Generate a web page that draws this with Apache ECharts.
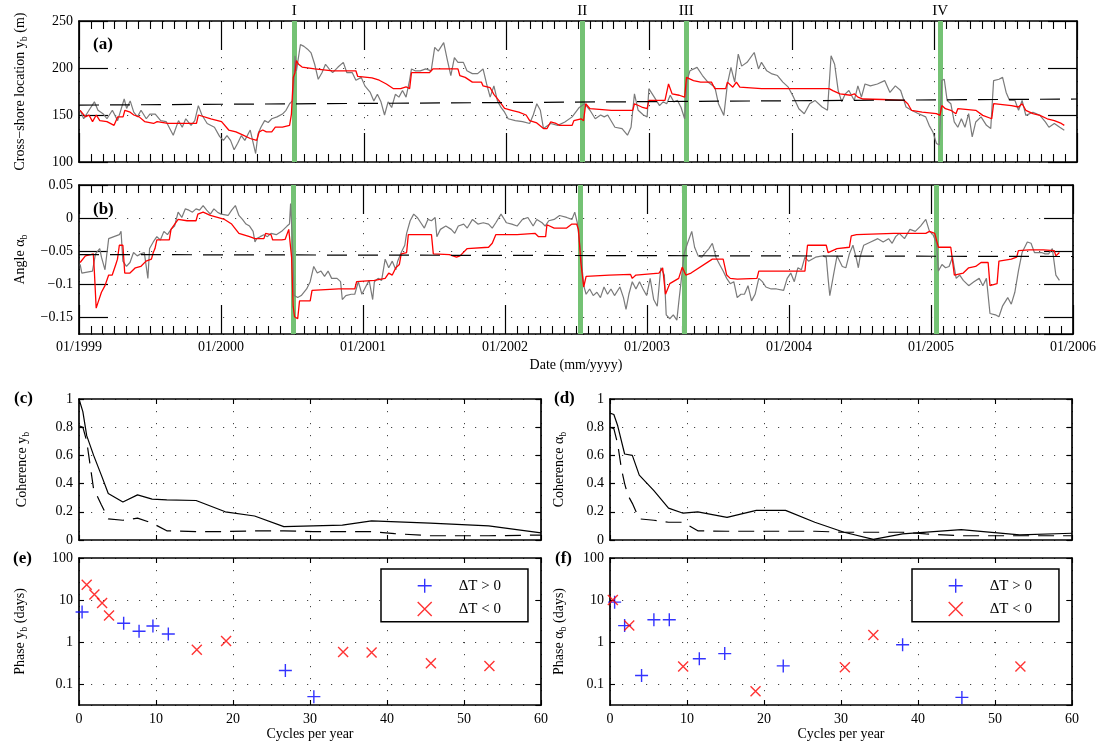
<!DOCTYPE html>
<html><head><meta charset="utf-8">
<script src="https://cdn.jsdelivr.net/npm/echarts@6/dist/echarts.min.js"></script>
<style>html,body{margin:0;padding:0;background:#fff}#c{width:1099px;height:742px}</style>
</head><body><div id="c"></div>
<script>
// ---------- DATA ----------
const eventDates = [2000.505, 2002.525, 2003.257, 2005.039];
const eventLabels = ['I', 'II', 'III', 'IV'];
const yearTickLabels = ['01/1999','01/2000','01/2001','01/2002','01/2003','01/2004','01/2005','01/2006'];

const aGray = [[1999.008,155],[1999.033,146],[1999.070,155],[1999.108,164],[1999.133,155],[1999.171,151],[1999.196,146],[1999.234,155],[1999.271,144],[1999.317,167],[1999.334,157],[1999.359,165],[1999.384,153],[1999.410,148],[1999.435,155],[1999.472,146],[1999.497,151],[1999.535,151],[1999.573,144],[1999.611,143],[1999.661,128.5],[1999.698,144],[1999.724,137],[1999.749,146],[1999.786,139],[1999.812,144],[1999.837,160],[1999.862,150],[1999.899,141],[1999.950,137],[1999.987,127],[2000.013,123],[2000.038,128],[2000.063,123],[2000.088,113],[2000.113,120],[2000.138,128],[2000.163,123],[2000.201,134],[2000.239,109],[2000.256,130],[2000.276,137],[2000.302,144],[2000.327,142],[2000.352,146],[2000.389,148],[2000.427,151],[2000.452,155],[2000.477,162],[2000.497,165],[2000.508,187],[2000.515,213],[2000.525,197],[2000.553,225],[2000.578,223],[2000.603,220],[2000.628,216],[2000.653,204],[2000.678,188],[2000.704,195],[2000.729,204],[2000.754,199],[2000.779,195],[2000.817,201],[2000.854,206],[2000.879,195],[2000.917,195],[2000.942,187],[2000.980,190],[2001.005,181],[2001.043,174],[2001.068,165],[2001.093,172],[2001.118,164],[2001.143,150],[2001.168,164],[2001.193,158],[2001.219,172],[2001.244,169],[2001.269,176],[2001.294,169],[2001.319,187],[2001.332,199],[2001.357,197],[2001.394,197],[2001.432,199],[2001.470,197],[2001.495,222],[2001.520,218],[2001.558,227],[2001.583,209],[2001.608,192],[2001.633,211],[2001.658,206],[2001.696,206],[2001.721,197],[2001.759,194],[2001.796,194],[2001.834,199],[2001.859,183],[2001.884,169],[2001.910,181],[2001.935,165],[2001.960,158],[2001.985,153],[2002.010,146],[2002.060,144],[2002.111,143],[2002.161,141],[2002.186,150],[2002.211,162],[2002.236,155],[2002.258,135.6],[2002.308,141],[2002.358,139],[2002.408,142.6],[2002.459,148],[2002.509,158],[2002.546,162],[2002.584,155],[2002.621,146],[2002.659,150],[2002.684,148],[2002.708,150],[2002.759,137],[2002.809,135.6],[2002.847,128.5],[2002.872,137],[2002.896,172.5],[2002.922,155],[2002.959,150],[2002.985,148],[2002.997,178],[2003.035,169],[2003.072,160],[2003.097,164],[2003.122,162],[2003.147,171],[2003.172,164],[2003.198,165.5],[2003.223,158],[2003.248,146],[2003.265,186.6],[2003.285,197],[2003.335,200.7],[2003.373,192],[2003.411,185],[2003.460,179.6],[2003.485,162],[2003.523,149.6],[2003.548,183],[2003.573,200.7],[2003.599,185],[2003.624,214.8],[2003.648,202],[2003.686,206],[2003.736,216.5],[2003.766,199],[2003.787,206],[2003.824,197],[2003.861,193.7],[2003.899,192],[2003.937,185],[2003.975,179.6],[2004.012,169],[2004.049,156.7],[2004.087,151.4],[2004.125,162],[2004.162,165.5],[2004.212,158.5],[2004.250,155],[2004.275,213],[2004.300,204],[2004.325,176],[2004.350,164],[2004.375,172.5],[2004.400,176],[2004.438,165.5],[2004.463,181],[2004.488,169],[2004.513,183],[2004.551,181],[2004.600,183],[2004.651,186.6],[2004.688,174],[2004.726,181],[2004.763,176],[2004.801,158.5],[2004.839,155],[2004.889,151.4],[2004.939,148],[2004.963,139],[2004.989,132],[2005.014,119.7],[2005.034,118],[2005.052,186.6],[2005.069,188],[2005.089,165.5],[2005.115,162],[2005.139,142.6],[2005.164,137],[2005.189,146],[2005.214,137],[2005.240,151.4],[2005.265,126.8],[2005.290,142.6],[2005.327,148],[2005.365,139],[2005.395,135.6],[2005.415,186.6],[2005.453,188],[2005.478,190],[2005.503,174],[2005.527,165.5],[2005.565,165.5],[2005.590,155],[2005.615,165.5],[2005.641,149.6],[2005.691,153],[2005.740,149.6],[2005.778,142.6],[2005.803,137],[2005.841,141],[2005.879,137],[2005.911,133.8]];

const aRed = [[1999.008,155],[1999.045,148],[1999.070,150],[1999.095,143],[1999.121,150],[1999.146,144],[1999.196,143],[1999.246,139],[1999.271,148],[1999.309,148],[1999.322,155],[1999.359,153],[1999.384,150],[1999.422,148],[1999.460,143],[1999.523,141],[1999.548,143],[1999.623,141],[1999.686,141],[1999.698,143],[1999.824,141],[1999.837,150],[1999.925,146],[2000.000,143],[2000.050,134],[2000.101,132],[2000.151,128.5],[2000.201,125],[2000.246,123],[2000.264,132],[2000.289,134],[2000.314,132],[2000.352,132],[2000.377,137],[2000.427,137],[2000.477,139],[2000.490,151],[2000.503,190],[2000.515,195],[2000.525,208],[2000.540,204],[2000.565,201],[2000.653,199],[2000.779,197],[2000.942,197],[2000.955,191],[2001.055,189.5],[2001.106,187],[2001.156,183],[2001.206,178],[2001.256,178],[2001.294,180],[2001.319,178],[2001.332,195],[2001.457,195],[2001.482,199],[2001.658,199],[2001.671,192],[2001.709,190],[2001.759,185],[2001.822,185],[2001.834,181],[2001.884,179],[2001.910,172],[2001.947,165],[2001.985,157],[2002.035,155],[2002.085,153],[2002.136,150],[2002.161,144],[2002.211,141.5],[2002.258,135.6],[2002.283,135.6],[2002.308,142.6],[2002.346,141],[2002.371,139],[2002.459,139],[2002.471,144],[2002.522,146],[2002.539,144],[2002.554,162],[2002.584,156.7],[2002.734,155],[2002.884,155],[2002.896,162],[2002.947,158.5],[2002.985,156.7],[2002.997,165.5],[2003.110,165.5],[2003.122,164],[2003.135,183],[2003.160,172.5],[2003.210,171],[2003.248,169],[2003.261,190],[2003.310,186.6],[2003.360,185],[2003.436,185],[2003.460,178],[2003.536,178],[2003.548,185],[2003.586,179.6],[2003.611,185],[2003.635,179.6],[2003.787,178],[2003.987,178],[2004.125,178],[2004.137,179.6],[2004.262,178],[2004.287,176],[2004.338,172.5],[2004.412,171],[2004.438,172.5],[2004.463,169],[2004.500,167],[2004.638,166.5],[2004.788,165.5],[2004.813,162],[2004.839,155],[2004.914,153],[2005.014,151.4],[2005.039,149.6],[2005.052,160],[2005.077,156.7],[2005.115,155],[2005.151,151.4],[2005.164,156.7],[2005.290,155],[2005.339,149.6],[2005.402,146],[2005.415,162],[2005.540,160],[2005.590,158.5],[2005.615,162],[2005.641,155],[2005.691,151.4],[2005.740,149.6],[2005.791,146],[2005.841,144],[2005.890,141],[2005.911,139]];

const aMean = [[1999, 160.5], [2006, 167]];

const bGray = [[1999.008,-0.070],[1999.020,-0.083],[1999.095,-0.080],[1999.116,-0.054],[1999.146,-0.046],[1999.158,-0.059],[1999.183,-0.078],[1999.209,-0.031],[1999.246,-0.028],[1999.284,-0.025],[1999.296,-0.020],[1999.309,-0.065],[1999.334,-0.073],[1999.359,-0.067],[1999.384,-0.052],[1999.410,-0.057],[1999.435,-0.054],[1999.460,-0.052],[1999.485,-0.091],[1999.497,-0.046],[1999.523,-0.036],[1999.548,-0.028],[1999.573,-0.033],[1999.598,-0.020],[1999.623,-0.025],[1999.648,-0.017],[1999.673,-0.012],[1999.698,0.009],[1999.724,0.001],[1999.749,0.014],[1999.774,0.012],[1999.799,0.009],[1999.824,0.014],[1999.849,0.012],[1999.874,0.019],[1999.899,0.012],[1999.925,0.006],[1999.950,0.014],[1999.975,0.009],[2000.000,0.006],[2000.050,0.004],[2000.075,0.012],[2000.101,0.019],[2000.126,0.004],[2000.151,-0.002],[2000.176,-0.009],[2000.201,-0.012],[2000.226,-0.020],[2000.239,-0.036],[2000.251,-0.031],[2000.276,-0.028],[2000.302,-0.025],[2000.327,-0.028],[2000.352,-0.023],[2000.389,-0.025],[2000.427,-0.020],[2000.465,-0.012],[2000.482,-0.009],[2000.490,0.022],[2000.503,-0.038],[2000.515,-0.117],[2000.540,-0.120],[2000.565,-0.117],[2000.603,-0.107],[2000.628,-0.096],[2000.653,-0.073],[2000.678,-0.083],[2000.704,-0.080],[2000.729,-0.088],[2000.754,-0.080],[2000.779,-0.091],[2000.817,-0.091],[2000.842,-0.096],[2000.854,-0.123],[2000.879,-0.117],[2000.917,-0.115],[2000.942,-0.115],[2000.967,-0.096],[2000.992,-0.115],[2001.018,-0.104],[2001.043,-0.094],[2001.068,-0.123],[2001.080,-0.096],[2001.106,-0.091],[2001.131,-0.094],[2001.156,-0.062],[2001.181,-0.075],[2001.206,-0.065],[2001.231,-0.078],[2001.244,-0.065],[2001.269,-0.052],[2001.294,-0.041],[2001.307,-0.023],[2001.332,-0.004],[2001.357,0.006],[2001.382,0.001],[2001.407,-0.007],[2001.432,-0.015],[2001.457,-0.002],[2001.482,-0.004],[2001.508,0.001],[2001.520,-0.028],[2001.545,-0.017],[2001.583,-0.012],[2001.621,-0.017],[2001.646,-0.023],[2001.671,-0.012],[2001.709,-0.009],[2001.734,-0.015],[2001.771,-0.002],[2001.809,-0.009],[2001.847,-0.007],[2001.884,-0.009],[2001.910,-0.015],[2001.935,-0.007],[2001.972,0.006],[2002.010,-0.007],[2002.048,-0.009],[2002.085,-0.012],[2002.123,-0.002],[2002.161,0.001],[2002.198,-0.012],[2002.224,-0.002],[2002.261,-0.007],[2002.283,-0.012],[2002.308,-0.004],[2002.346,-0.002],[2002.384,0.004],[2002.434,0.001],[2002.471,-0.002],[2002.491,0.009],[2002.509,-0.007],[2002.534,-0.054],[2002.554,-0.102],[2002.571,-0.115],[2002.596,-0.107],[2002.621,-0.117],[2002.647,-0.112],[2002.672,-0.120],[2002.697,-0.104],[2002.722,-0.115],[2002.746,-0.107],[2002.771,-0.117],[2002.809,-0.104],[2002.834,-0.120],[2002.852,-0.138],[2002.872,-0.115],[2002.896,-0.096],[2002.922,-0.107],[2002.947,-0.096],[2002.972,-0.107],[2002.997,-0.117],[2003.022,-0.091],[2003.047,-0.123],[2003.072,-0.133],[2003.097,-0.075],[2003.122,-0.086],[2003.135,-0.146],[2003.160,-0.152],[2003.185,-0.146],[2003.210,-0.154],[2003.223,-0.128],[2003.235,-0.130],[2003.248,-0.080],[2003.261,-0.054],[2003.285,-0.038],[2003.315,-0.020],[2003.335,-0.044],[2003.360,-0.057],[2003.386,-0.059],[2003.411,-0.052],[2003.436,-0.046],[2003.460,-0.038],[2003.485,-0.059],[2003.511,-0.070],[2003.536,-0.080],[2003.561,-0.091],[2003.586,-0.099],[2003.611,-0.096],[2003.635,-0.120],[2003.661,-0.115],[2003.686,-0.115],[2003.711,-0.102],[2003.736,-0.125],[2003.761,-0.115],[2003.787,-0.091],[2003.812,-0.096],[2003.837,-0.104],[2003.874,-0.107],[2003.912,-0.107],[2003.962,-0.109],[2003.987,-0.091],[2004.012,-0.083],[2004.037,-0.096],[2004.062,-0.075],[2004.087,-0.078],[2004.112,-0.059],[2004.137,-0.065],[2004.187,-0.059],[2004.237,-0.057],[2004.262,-0.059],[2004.275,-0.091],[2004.287,-0.117],[2004.313,-0.086],[2004.338,-0.057],[2004.375,-0.073],[2004.400,-0.075],[2004.425,-0.054],[2004.450,-0.041],[2004.475,-0.062],[2004.488,-0.075],[2004.500,-0.059],[2004.526,-0.041],[2004.575,-0.036],[2004.625,-0.031],[2004.663,-0.036],[2004.701,-0.031],[2004.726,-0.038],[2004.751,-0.028],[2004.776,-0.023],[2004.813,-0.031],[2004.851,-0.017],[2004.889,-0.020],[2004.926,-0.012],[2004.963,-0.002],[2004.989,-0.020],[2005.014,-0.025],[2005.039,-0.038],[2005.052,-0.080],[2005.077,-0.070],[2005.102,-0.075],[2005.127,-0.073],[2005.151,-0.059],[2005.177,-0.091],[2005.202,-0.086],[2005.227,-0.094],[2005.265,-0.102],[2005.302,-0.096],[2005.339,-0.091],[2005.365,-0.102],[2005.390,-0.091],[2005.415,-0.144],[2005.453,-0.146],[2005.478,-0.149],[2005.503,-0.133],[2005.540,-0.120],[2005.565,-0.130],[2005.590,-0.112],[2005.615,-0.080],[2005.641,-0.052],[2005.678,-0.036],[2005.704,-0.038],[2005.728,-0.052],[2005.753,-0.052],[2005.778,-0.052],[2005.803,-0.054],[2005.828,-0.054],[2005.854,-0.046],[2005.879,-0.086],[2005.904,-0.094]];

const bRed = [[1999.008,-0.067],[1999.045,-0.057],[1999.083,-0.055],[1999.101,-0.054],[1999.108,-0.080],[1999.121,-0.136],[1999.133,-0.128],[1999.158,-0.112],[1999.183,-0.102],[1999.209,-0.086],[1999.234,-0.086],[1999.259,-0.070],[1999.271,-0.062],[1999.284,-0.041],[1999.309,-0.041],[1999.322,-0.083],[1999.359,-0.083],[1999.397,-0.075],[1999.435,-0.073],[1999.472,-0.065],[1999.510,-0.062],[1999.523,-0.052],[1999.535,-0.046],[1999.548,-0.033],[1999.598,-0.033],[1999.636,-0.033],[1999.648,-0.017],[1999.698,-0.002],[1999.761,-0.004],[1999.824,-0.004],[1999.837,0.006],[1999.874,0.009],[1999.925,0.004],[1999.975,0.001],[2000.025,-0.002],[2000.075,-0.009],[2000.126,-0.023],[2000.201,-0.028],[2000.239,-0.031],[2000.302,-0.031],[2000.314,-0.023],[2000.352,-0.025],[2000.364,-0.033],[2000.427,-0.033],[2000.452,-0.032],[2000.477,-0.017],[2000.490,-0.017],[2000.497,-0.059],[2000.508,-0.133],[2000.518,-0.149],[2000.540,-0.152],[2000.553,-0.125],[2000.628,-0.125],[2000.641,-0.109],[2000.829,-0.107],[2000.942,-0.107],[2000.955,-0.096],[2001.080,-0.094],[2001.156,-0.091],[2001.181,-0.083],[2001.206,-0.086],[2001.231,-0.075],[2001.256,-0.070],[2001.269,-0.054],[2001.307,-0.052],[2001.319,-0.025],[2001.482,-0.025],[2001.495,-0.054],[2001.608,-0.055],[2001.658,-0.059],[2001.683,-0.057],[2001.734,-0.046],[2001.884,-0.044],[2001.910,-0.038],[2001.935,-0.025],[2002.085,-0.025],[2002.211,-0.023],[2002.236,-0.028],[2002.286,-0.028],[2002.295,-0.010],[2002.308,-0.012],[2002.346,-0.015],[2002.434,-0.015],[2002.471,-0.009],[2002.504,-0.009],[2002.517,-0.017],[2002.534,-0.067],[2002.554,-0.104],[2002.571,-0.088],[2002.734,-0.086],[2002.884,-0.085],[2002.896,-0.091],[2002.922,-0.086],[2003.084,-0.083],[2003.110,-0.075],[2003.130,-0.115],[2003.160,-0.099],[2003.223,-0.091],[2003.248,-0.074],[2003.273,-0.086],[2003.310,-0.083],[2003.460,-0.062],[2003.536,-0.062],[2003.561,-0.086],[2003.586,-0.091],[2003.635,-0.092],[2003.774,-0.091],[2003.787,-0.080],[2004.112,-0.080],[2004.130,-0.041],[2004.262,-0.041],[2004.275,-0.052],[2004.338,-0.046],[2004.425,-0.044],[2004.438,-0.027],[2004.475,-0.025],[2004.738,-0.023],[2004.963,-0.023],[2004.989,-0.020],[2005.026,-0.023],[2005.052,-0.044],[2005.139,-0.044],[2005.164,-0.086],[2005.227,-0.083],[2005.265,-0.075],[2005.314,-0.073],[2005.352,-0.067],[2005.402,-0.067],[2005.415,-0.102],[2005.465,-0.099],[2005.478,-0.065],[2005.565,-0.062],[2005.603,-0.059],[2005.615,-0.049],[2005.691,-0.048],[2005.791,-0.048],[2005.867,-0.049],[2005.879,-0.057],[2005.904,-0.052]];

const bMean = [[1999, -0.055], [2006, -0.058]];

const cSolid = [[0,1.0],[0.5,0.91],[1.0,0.74],[1.9,0.6],[2.9,0.46],[3.8,0.33],[5.7,0.27],[7.6,0.32],[9.5,0.29],[11.4,0.285],[15.2,0.28],[19,0.2],[22.8,0.17],[26.6,0.095],[30.4,0.1],[34.2,0.105],[38,0.135],[45.6,0.12],[53.2,0.1],[60,0.05]];
const cDash = [[0,0.81],[0.5,0.8],[1,0.7],[1.9,0.36],[2.3,0.32],[2.9,0.25],[3.8,0.15],[5.7,0.14],[7.6,0.155],[9.5,0.12],[11.4,0.065],[15.2,0.06],[19,0.06],[22.8,0.065],[26.6,0.065],[30.4,0.06],[34.2,0.06],[38,0.06],[41,0.045],[45.6,0.03],[53.2,0.03],[60,0.035]];
const dSolid = [[0,0.9],[0.5,0.89],[1,0.81],[1.9,0.61],[2.9,0.6],[3.8,0.46],[5.7,0.35],[7.6,0.226],[9.5,0.19],[11.4,0.2],[15.2,0.16],[19,0.21],[22.8,0.21],[26.6,0.126],[30.4,0.055],[34.2,0.005],[38,0.043],[45.6,0.074],[53.2,0.036],[60,0.048]];
const dDash = [[0,0.8],[0.5,0.79],[1,0.68],[1.5,0.5],[1.9,0.4],[2.3,0.32],[2.9,0.26],[3.8,0.15],[5.7,0.14],[7.6,0.126],[9.5,0.126],[11.4,0.065],[15.2,0.062],[19,0.062],[22.8,0.062],[26.6,0.062],[30.4,0.055],[34.2,0.055],[38,0.055],[41,0.043],[45.6,0.03],[53.2,0.03],[60,0.03]];

const ePos = [[0.4,5.2],[5.8,2.8],[7.8,1.8],[9.6,2.4],[11.6,1.55],[26.8,0.21],[30.5,0.05]];
const eNeg = [[1.0,23],[2.0,13.5],[3.0,8.5],[3.9,4.3],[15.3,0.65],[19.1,1.05],[34.3,0.58],[38.0,0.56],[45.7,0.31],[53.3,0.27]];
const fPos = [[0.6,8.9],[1.9,2.46],[4.1,0.16],[5.7,3.4],[7.7,3.4],[11.6,0.4],[14.9,0.53],[22.5,0.27],[38.0,0.86],[45.7,0.048]];
const fNeg = [[0.37,10],[2.5,2.46],[9.5,0.26],[18.9,0.067],[30.5,0.25],[34.2,1.47],[53.3,0.26]];

const legendNames = ['\u0394T > 0', '\u0394T < 0'];

// ---------- STYLE HELPERS ----------
const FONT = "'Liberation Serif','Times New Roman',serif";
const BLACK = '#000';
const dotted = {show: true, lineStyle: {color: '#444', width: 1, type: [1.2, 10.8]}};
const frame = {show: true, onZero: false, lineStyle: {color: BLACK, width: 1.7}};
const lbl = (o) => Object.assign({color: BLACK, fontFamily: FONT, fontSize: 14}, o || {});
const minus = (s) => String(s).replace('-', '\u2212');
const nameStyle = {color: BLACK, fontFamily: FONT, fontSize: 14,
  rich: {s: {fontFamily: FONT, fontSize: 10, color: BLACK, padding: [8, 0, 0, 0]}}};

function dateX(gi, pos, showLabel) {
  return {
    type: 'value', gridIndex: gi, position: pos, min: 1999, max: 2006, interval: 1,
    axisLine: frame,
    axisTick: {show: true, inside: true, length: 29, lineStyle: {color: BLACK, width: 1.2}},
    minorTick: {show: true, splitNumber: 12, length: 8, lineStyle: {color: BLACK, width: 1.1}},
    axisLabel: lbl({show: showLabel, margin: 6, formatter: (v) => yearTickLabels[Math.round(v - 1999)]}),
    splitLine: pos === 'bottom' ? dotted : {show: false}
  };
}
function freqX(gi, pos, showLabel) {
  return {
    type: 'value', gridIndex: gi, position: pos, min: 0, max: 60, interval: 10,
    axisLine: frame,
    axisTick: {show: true, inside: true, length: 5, lineStyle: {color: BLACK, width: 1.1}},
    axisLabel: lbl({show: showLabel, margin: 7}),
    splitLine: pos === 'bottom' ? dotted : {show: false}
  };
}
function yAx(gi, pos, o, tickLen) {
  return Object.assign({
    type: 'value', gridIndex: gi, position: pos,
    axisLine: frame,
    axisTick: {show: true, inside: true, length: tickLen, lineStyle: {color: BLACK, width: 1.2}},
    axisLabel: lbl({show: pos === 'left', margin: 6}),
    splitLine: pos === 'left' ? dotted : {show: false}
  }, o);
}
function logY(gi, pos, name, gap) {
  return {
    type: 'log', logBase: 10, gridIndex: gi, position: pos, min: Math.pow(10, -1.5), max: 100,
    axisLine: frame,
    axisTick: {show: true, inside: true, length: 5, lineStyle: {color: BLACK, width: 1.1}},
    axisLabel: lbl({show: pos === 'left', margin: 6, showMinLabel: false,
      formatter: (v) => v >= 0.99 ? String(Math.round(v)) : (v > 0.09 && v < 0.11 ? '0.1' : '')}),
    splitLine: pos === 'left' ? dotted : {show: false},
    name: pos === 'left' ? name : '', nameLocation: 'middle', nameGap: gap, nameTextStyle: nameStyle
  };
}

// ---------- AXES ----------
const xAxes = [
  dateX(0, 'bottom', false), dateX(0, 'top', false),
  dateX(1, 'bottom', true), dateX(1, 'top', false),
  freqX(2, 'bottom', false), freqX(2, 'top', false),
  freqX(3, 'bottom', false), freqX(3, 'top', false),
  freqX(4, 'bottom', true), freqX(4, 'top', false),
  freqX(5, 'bottom', true), freqX(5, 'top', false)
];
xAxes[2].name = 'Date (mm/yyyy)'; xAxes[2].nameLocation = 'middle'; xAxes[2].nameGap = 24; xAxes[2].nameTextStyle = nameStyle;
xAxes[8].name = 'Cycles per year'; xAxes[8].nameLocation = 'middle'; xAxes[8].nameGap = 22; xAxes[8].nameTextStyle = nameStyle;
xAxes[10].name = 'Cycles per year'; xAxes[10].nameLocation = 'middle'; xAxes[10].nameGap = 22; xAxes[10].nameTextStyle = nameStyle;

const yAxes = [
  yAx(0, 'left', {min: 100, max: 250, interval: 50, name: 'Cross\u2212shore location y{s|b} (m)', nameLocation: 'middle', nameGap: 50, nameTextStyle: nameStyle}, 29),
  yAx(0, 'right', {min: 100, max: 250, interval: 50}, 29),
  yAx(1, 'left', {min: -0.175, max: 0.05, splitNumber: 5, name: 'Angle \u03b1{s|b}', nameLocation: 'middle', nameGap: 50, nameTextStyle: nameStyle}, 29),
  yAx(1, 'right', {min: -0.175, max: 0.05, splitNumber: 5}, 29),
  yAx(2, 'left', {min: 0, max: 1, interval: 0.2, name: 'Coherence y{s|b}', nameLocation: 'middle', nameGap: 48, nameTextStyle: nameStyle}, 5),
  yAx(2, 'right', {min: 0, max: 1, interval: 0.2}, 5),
  yAx(3, 'left', {min: 0, max: 1, interval: 0.2, name: 'Coherence \u03b1{s|b}', nameLocation: 'middle', nameGap: 42, nameTextStyle: nameStyle}, 5),
  yAx(3, 'right', {min: 0, max: 1, interval: 0.2}, 5),
  logY(4, 'left', 'Phase y{s|b} (days)', 50), logY(4, 'right', '', 0),
  logY(5, 'left', 'Phase \u03b1{s|b} (days)', 42), logY(5, 'right', '', 0)
];
yAxes[2].axisLabel.showMinLabel = false;
yAxes[2].axisLabel.formatter = (v) => minus(Math.round(v * 1000) / 1000);
yAxes[4].axisLabel.formatter = (v) => String(Math.round(v * 10) / 10);
yAxes[6].axisLabel.formatter = (v) => String(Math.round(v * 10) / 10);

// ---------- SERIES ----------
function green(xi, yi, withLabels) {
  return {
    type: 'line', xAxisIndex: xi, yAxisIndex: yi, data: [], z: 1, silent: true,
    markLine: {
      z: 1, silent: true, symbol: ['none', 'none'], animation: false,
      lineStyle: {color: '#74c274', width: 5, type: 'solid', opacity: 1},
      label: {show: withLabels, position: 'end', distance: 2, color: BLACK, fontFamily: FONT, fontSize: 15},
      emphasis: {disabled: true},
      data: eventDates.map((d, i) => ({xAxis: d, label: {formatter: eventLabels[i]}}))
    }
  };
}
function line(xi, yi, data, color, width, type, z) {
  return {type: 'line', xAxisIndex: xi, yAxisIndex: yi, data: data, showSymbol: false, symbol: 'none',
    z: z, silent: true, lineStyle: {color: color, width: width, type: type || 'solid'}};
}
const PLUS = 'path://M0,5L10,5M5,0L5,10';
const CROSS = 'path://M0,0L10,10M10,0L0,10';
function scat(xi, yi, data, name, sym, color, size) {
  return {type: 'scatter', name: name, xAxisIndex: xi, yAxisIndex: yi, data: data, symbol: sym, symbolSize: size,
    z: 3, silent: true, itemStyle: {color: 'rgba(0,0,0,0)', borderColor: color, borderWidth: 1.4}};
}

const series = [
  green(0, 0, true),
  line(0, 0, aGray, '#7a7a7a', 1.2, 'solid', 2),
  line(0, 0, aRed, '#ff0000', 1.3, 'solid', 3),
  line(0, 0, aMean, '#000', 1.2, [20, 11], 4),
  green(2, 2, false),
  line(2, 2, bGray, '#7a7a7a', 1.2, 'solid', 2),
  line(2, 2, bRed, '#ff0000', 1.3, 'solid', 3),
  line(2, 2, bMean, '#000', 1.2, [20, 11], 4),
  line(4, 4, cSolid, '#000', 1.2, 'solid', 3),
  line(4, 4, cDash, '#000', 1.2, [16, 9], 3),
  line(6, 6, dSolid, '#000', 1.2, 'solid', 3),
  line(6, 6, dDash, '#000', 1.2, [16, 9], 3),
  scat(8, 8, ePos, legendNames[0], PLUS, '#0000ff', 13),
  scat(8, 8, eNeg, legendNames[1], CROSS, '#ff0000', 10),
  scat(10, 10, fPos, legendNames[0], PLUS, '#0000ff', 13),
  scat(10, 10, fNeg, legendNames[1], CROSS, '#ff0000', 10)
];

function legendAt(left) {
  return {
    left: left, top: 569, orient: 'vertical', selectedMode: false,
    backgroundColor: '#fff', borderColor: BLACK, borderWidth: 1.5, borderRadius: 0,
    padding: [9, 27, 5, 36], itemGap: 8, itemWidth: 14, itemHeight: 14,
    itemStyle: {borderWidth: 1.4},
    textStyle: {color: BLACK, fontFamily: FONT, fontSize: 15, padding: [0, 0, 0, 22]},
    data: [
      {name: legendNames[0], icon: PLUS, itemStyle: {color: 'rgba(0,0,0,0)', borderColor: '#0000ff', borderWidth: 1.4}},
      {name: legendNames[1], icon: CROSS, itemStyle: {color: 'rgba(0,0,0,0)', borderColor: '#ff0000', borderWidth: 1.4}}
    ]
  };
}

const panelFont = "bold 17px 'Liberation Serif','Times New Roman',serif";
const panelText = (t, x, y) => ({type: 'text', left: x, top: y, z: 100, silent: true,
  style: {text: t, font: panelFont, fill: BLACK}});

const option = {
  animation: false,
  backgroundColor: '#fff',
  textStyle: {fontFamily: FONT},
  grid: [
    {left: 79, top: 21, width: 998, height: 141},
    {left: 79, top: 185, width: 998, height: 149},
    {left: 79, top: 399, width: 462, height: 141},
    {left: 610, top: 399, width: 462, height: 141},
    {left: 79, top: 558, width: 462, height: 148},
    {left: 610, top: 558, width: 462, height: 148}
  ],
  xAxis: xAxes,
  yAxis: yAxes,
  legend: [legendAt(381), legendAt(912)],
  series: series,
  graphic: [
    panelText('(a)', 93, 36), panelText('(b)', 93, 201),
    panelText('(c)', 14, 390), panelText('(d)', 554, 390),
    panelText('(e)', 13, 550), panelText('(f)', 555, 550)
  ]
};

const chart = echarts.init(document.getElementById('c'), null, {renderer: 'canvas'});
chart.setOption(option);
</script></body></html>
